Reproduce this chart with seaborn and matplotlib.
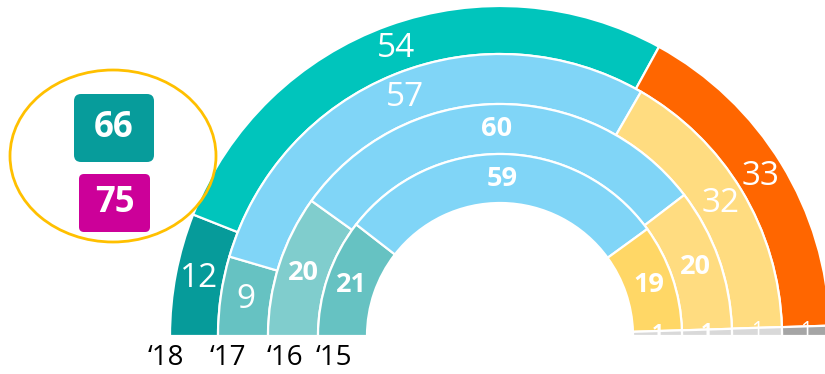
import numpy as np
import matplotlib.pyplot as plt
from matplotlib.patches import Ellipse, FancyBboxPatch
import seaborn as sns

# data, one list per ring (outer '18 -> inner '15)
years = ["‘18", "‘17", "‘16", "‘15"]
vals_18 = [12, 54, 33, 1]
vals_17 = [9, 57, 32, 1]
vals_16 = [20, 60, 20, 1]
vals_15 = [21, 59, 19, 1]
callout_top = 66
callout_bottom = 75

sns.set_theme(style="white")
plt.rcParams['font.family'] = ['Open Sans', 'DejaVu Sans']

fig = plt.figure(figsize=(8.25, 3.74), dpi=100)
ax = fig.add_axes([0, 0, 1, 1])

cx, cy = 500, 38  # centre of the half doughnut (pixels, from bottom-left)
radii = [330, 282, 232, 182, 133]
blue = '#80d5f7'
rings = [
    (vals_18, ['#069b9a', '#00c5bc', '#ff6600', '#a5a5a5'], 'normal', 24),
    (vals_17, ['#66c2c2', blue, '#ffdc80', '#d9d9d9'], 'normal', 24),
    (vals_16, ['#80cdcd', blue, '#ffdc80', '#d9d9d9'], 'bold', 19.5),
    (vals_15, ['#66c2c2', blue, '#ffd766', '#d9d9d9'], 'bold', 19.5),
]

for i, (vals, cols, weight, fs) in enumerate(rings):
    r = radii[i]
    w = radii[i] - radii[i + 1]
    total = sum(vals)
    # hidden slice equal to the total -> visible part is a half circle
    wedges, _ = ax.pie(vals + [total], radius=r, center=(cx, cy), startangle=180,
                       counterclock=False, colors=cols + ['white'],
                       wedgeprops=dict(width=w, edgecolor='white', linewidth=1.6))
    wedges[-1].set_visible(False)

    edges = np.cumsum([0] + vals) / total * 180
    mids = np.radians(180 - (edges[:-1] + edges[1:]) / 2)
    rm = r - w / 2
    for v, a in zip(vals, mids):
        size = fs if v > 1 else 15
        ax.text(cx + rm * np.cos(a), cy + rm * np.sin(a), str(v), color='white',
                fontsize=size, fontweight=weight, ha='center', va='center')

# year labels under the left side
label_x = [166, 228, 285, 334]
for x, y in zip(label_x, years):
    ax.text(x, 16, y, fontsize=20, color='black', ha='center', va='center')

# callout on the left
ax.add_patch(Ellipse((113, 218), 206, 172, fc='none', ec='#ffc000', lw=2))
ax.add_patch(FancyBboxPatch((74, 212), 80, 68, boxstyle='round,pad=0,rounding_size=7',
                            fc='#079c9b', ec='none'))
ax.add_patch(FancyBboxPatch((79, 142), 71, 58, boxstyle='round,pad=0,rounding_size=5',
                            fc='#cc0099', ec='none'))
ax.text(114, 246, str(callout_top), color='white', fontsize=25, fontweight='bold',
        ha='center', va='center')
ax.text(114.5, 171, str(callout_bottom), color='white', fontsize=25, fontweight='bold',
        ha='center', va='center')

ax.set_xlim(0, 825)
ax.set_ylim(0, 374)
ax.axis('off')

fig.savefig('out.png', dpi=100)
